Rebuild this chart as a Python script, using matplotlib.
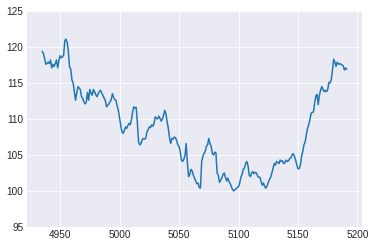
import matplotlib
matplotlib.use("Agg")
import matplotlib.pyplot as plt
import numpy as np

# series, one value per step starting at 4935
start = 4935
values = [
    119.4, 119.1, 118.4, 117.6, 117.7, 117.9, 117.7, 118.2, 117.1, 117.6,
    117.3, 117.7, 118.2, 117.1, 118.1, 118.8, 118.5, 118.6, 118.9, 120.9,
    121.1, 120.6, 119.3, 117.2, 116.9, 115.4, 115.0, 113.8, 112.6, 113.6,
    114.5, 114.3, 114.1, 113.1, 112.9, 112.4, 112.1, 112.3, 113.7, 112.6,
    114.1, 113.6, 113.3, 114.1, 113.8, 113.4, 113.1, 113.5, 113.8, 114.0,
    113.6, 113.3, 112.9, 112.6, 111.7, 111.9, 112.1, 112.4, 112.7, 113.5,
    113.0, 112.7, 112.6, 111.8, 111.2, 110.1, 109.1, 108.2, 108.0, 108.4,
    108.9, 108.7, 109.1, 109.4, 109.2, 109.9, 111.0, 111.7, 111.5, 111.6,
    109.4, 106.8, 106.4, 106.6, 107.1, 107.3, 107.2, 107.3, 108.2, 108.5,
    108.9, 108.8, 109.2, 109.0, 109.4, 110.3, 110.1, 110.0, 110.4, 110.1,
    109.7, 110.0, 110.5, 111.2, 110.7, 109.6, 108.7, 107.4, 106.6, 107.3,
    107.2, 107.5, 107.4, 107.0, 106.4, 106.2, 105.5, 104.3, 104.1, 104.4,
    104.9, 106.6, 104.0, 102.0, 102.3, 103.0, 102.8, 102.2, 101.8, 101.4,
    101.0, 101.1, 100.5, 100.4, 104.0, 104.8, 105.2, 105.5, 106.2, 106.4,
    107.3, 106.6, 106.2, 105.2, 105.0, 105.4, 105.3, 102.5, 102.2, 101.2,
    101.5, 101.8, 102.3, 102.5, 101.9, 101.4, 101.8, 101.3, 101.0, 100.6,
    100.2, 100.0, 100.2, 100.3, 100.5, 100.6, 101.1, 101.9, 102.3, 103.0,
    103.2, 103.8, 104.1, 103.5, 102.2, 102.0, 102.5, 102.7, 102.4, 102.6,
    102.5, 102.1, 101.9, 101.9, 101.3, 100.8, 101.1, 100.6, 100.4, 100.7,
    101.2, 101.6, 101.9, 102.5, 103.1, 103.8, 103.6, 104.1, 104.0, 103.8,
    104.3, 104.1, 104.2, 103.8, 103.9, 104.3, 104.1, 104.2, 104.5, 104.6,
    105.0, 105.2, 104.8, 104.3, 103.6, 103.1, 103.1, 103.6, 104.8, 105.5,
    106.4, 106.8, 107.8, 108.7, 109.2, 109.9, 110.8, 110.9, 111.0, 112.2,
    113.2, 113.4, 112.0, 113.3, 114.0, 114.5, 114.1, 113.8, 114.0, 113.8,
    114.1, 115.1, 115.0, 115.5, 116.8, 118.3, 117.9, 117.3, 117.9, 117.6,
    117.7, 117.6, 117.5, 117.4, 116.8, 117.1, 116.9,
]
x = np.arange(start, start + len(values))

xticks = [4950, 5000, 5050, 5100, 5150, 5200]
yticks = [95, 100, 105, 110, 115, 120, 125]

plt.style.use("seaborn-v0_8-darkgrid")
plt.rcParams["font.family"] = ["Liberation Sans", "DejaVu Sans"]

fig = plt.figure(figsize=(374 / 72, 247 / 72), dpi=72)
ax = fig.add_axes([27 / 374, 20 / 247, 335 / 374, 216 / 247])
ax.plot(x, values, color="#1f77b4", linewidth=1.5)

ax.set_ylim(95, 125)
ax.set_xticks(xticks)
ax.set_yticks(yticks)
ax.tick_params(labelsize=10, colors="0.15")

fig.savefig("out.png", dpi=72)
